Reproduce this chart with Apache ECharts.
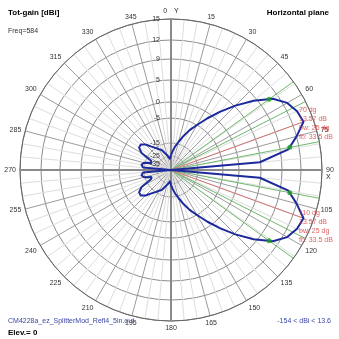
<!DOCTYPE html>
<html><head><meta charset="utf-8">
<script src="https://cdn.jsdelivr.net/npm/echarts@6/dist/echarts.min.js"></script>
<style>html,body{margin:0;padding:0;background:#fff}#c{width:339px;height:339px}</style>
</head><body><div id="c"></div>
<script>
// ---- data ----
const angles = [0,5,10,15,20,25,30,35,40,45,50,55,60,65,70,75,80,85,90,95,100,105,110,115,120,125,130,135,140,145,150,155,160,165,170,175,
  180,185,190,195,200,205,210,215,220,225,230,235,240,245,250,255,260,265,270,275,280,285,290,295,300,305,310,315,320,325,330,335,340,345,350,355];
const gains = [-24.2,-21.2,-17.3,-14.2,-11.4,-8.2,-5.0,-1.6,1.8,5.2,8.4,11.1,12.6,13.3,13.57,12.0,10.3,4.8,-154,4.8,10.3,12.0,13.57,13.3,12.6,11.1,8.4,5.2,1.8,-1.6,-5.0,-8.2,-11.4,-14.2,-17.3,-21.2,
  -24.2,-28.8,-25.5,-23.8,-21.9,-18.8,-17.3,-15.0,-13.6,-11.4,-10.0,-10.2,-12.2,-18.8,-19.9,-14.6,-13.8,-14.6,-150,-14.6,-13.8,-14.6,-19.9,-18.8,-12.2,-10.2,-10.0,-11.4,-13.6,-15.0,-17.3,-18.8,-21.9,-23.8,-25.5,-28.8];
const ringDb = [15,12,9,5,0,-5,-15,-25,-35];
const lobeAngle = [70,110];
const lobeGain = [13.57,13.57];
const lobeBw = [25,25];
const lobeFb = [33.5,33.5];
const halfPowerGain = 10.57;
const halfPowerAngles = [54.2,79.2,100.8,125.8];
const extraGreenAngles = [63,117];

// ---- radial scale (4nec2 style log-like scale, ring positions) ----
const scaleDb = [15,12,9,5,0,-5,-15,-25,-35,-50];
const scaleR = [151,130,111,90,68,52,27,14,6,0].map(v=>v/151);
function toR(db){
  if (db >= scaleDb[0]) return scaleR[0];
  for (let i=0;i<scaleDb.length-1;i++){
    const a=scaleDb[i], b=scaleDb[i+1];
    if (db<=a && db>=b){ const t=(a-db)/(a-b); return scaleR[i]+(scaleR[i+1]-scaleR[i])*t; }
  }
  return 0;
}
const ringR = ringDb.map(toR);

const FF = '"Liberation Sans", Arial, sans-serif';
const chart = echarts.init(document.getElementById('c'), null, {renderer:'canvas'});

const series = [];
// main axes (grid)
series.push({type:'line',coordinateSystem:'polar',silent:true,symbol:'none',animation:false,z:1,
  lineStyle:{color:'#8a8a8a',width:2},data:[[1,0],[0,0],[1,180]]});
series.push({type:'line',coordinateSystem:'polar',silent:true,symbol:'none',animation:false,z:1,
  lineStyle:{color:'#8a8a8a',width:2},data:[[1,90],[0,90],[1,270]]});
// beamwidth (green) lines
halfPowerAngles.concat(extraGreenAngles).forEach(a=>{
  series.push({type:'line',coordinateSystem:'polar',silent:true,symbol:'none',animation:false,z:2,
    lineStyle:{color:'#6cb86c',width:1},data:[[0,a],[1,a]]});
});
// max-gain (red) lines
lobeAngle.forEach((a,i)=>{
  series.push({type:'line',coordinateSystem:'polar',silent:true,symbol:'none',animation:false,z:2,
    lineStyle:{color:'#d07070',width:1},data:[[0,a],[toR(lobeGain[i]),a]]});
});
// pattern
const trace = angles.map((a,i)=>[toR(gains[i]),a]);
trace.push([toR(gains[0]),360]);
series.push({type:'line',coordinateSystem:'polar',silent:true,symbol:'none',animation:false,z:5,
  lineStyle:{color:'#1c2a9c',width:2},data:trace});
// half-power dots
series.push({type:'scatter',coordinateSystem:'polar',silent:true,animation:false,z:6,symbolSize:5,
  itemStyle:{color:'#22a022'},data:halfPowerAngles.map(a=>[toR(halfPowerGain),a])});
// lobe readouts
const labelOffsets = [[-4,-16],[-4,-9]];
series.push({type:'scatter',coordinateSystem:'polar',silent:true,animation:false,z:7,symbolSize:1,
  itemStyle:{color:'rgba(0,0,0,0)'},
  data:lobeAngle.map((a,i)=>({value:[toR(lobeGain[i]),a],
    label:{show:true,position:labelOffsets[i],align:'left',verticalAlign:'top',
      formatter:`${a} dg\n${lobeGain[i].toFixed(2)} dB\nbw: ${lobeBw[i]} dg\nfb: ${lobeFb[i]} dB`,
      fontSize:7,lineHeight:9,color:'#d83a3a',fontFamily:FF}}))});

chart.setOption({
  animation:false,
  backgroundColor:'#fff',
  title:[
    {text:'Tot-gain [dBi]',left:3,top:3,textStyle:{fontSize:8,fontWeight:'bold',color:'#000',fontFamily:FF,lineHeight:9}},
    {text:'Freq=584',left:3,top:22,textStyle:{fontSize:7,fontWeight:'normal',color:'#333',fontFamily:FF,lineHeight:8}},
    {text:'Horizontal plane',right:5,top:3,textStyle:{fontSize:8,fontWeight:'bold',color:'#000',fontFamily:FF,lineHeight:9}},
    {text:'CM4228a_ez_SplitterMod_Refl4_5in.out',left:3,top:312,textStyle:{fontSize:7,fontWeight:'normal',color:'#3a46a6',fontFamily:FF,lineHeight:8}},
    {text:'Elev.= 0',left:3,top:323,textStyle:{fontSize:8,fontWeight:'bold',color:'#000',fontFamily:FF,lineHeight:9}},
    {text:'-154 < dBi < 13.6',right:3,top:312,textStyle:{fontSize:7,fontWeight:'normal',color:'#3a46a6',fontFamily:FF,lineHeight:8}}
  ],
  polar:{center:[171,170],radius:151},
  angleAxis:{type:'value',min:0,max:360,interval:15,startAngle:90,clockwise:true,
    axisLine:{show:true,lineStyle:{color:'#666',width:1}},
    axisTick:{show:false},
    axisLabel:{margin:4,fontSize:7,color:'#333',fontFamily:FF,
      formatter:v=>{ if(v===360) return ''; if(v===0) return '{a|0}{b|Y}'; if(v===90) return '{n|90}\n{x|X}'; return String(v);},
      rich:{a:{fontSize:7,color:'#333',fontFamily:FF,padding:[0,7,0,0]},b:{fontSize:7,color:'#222',fontFamily:FF},
            n:{fontSize:7,color:'#333',fontFamily:FF,padding:[8,0,0,0]},x:{fontSize:7,color:'#222',fontFamily:FF}}},
    splitLine:{show:true,lineStyle:{color:'#9c9c9c',width:1}},
    minorTick:{show:false,splitNumber:3},
    minorSplitLine:{show:true,lineStyle:{color:'#dddddd',width:1}}
  },
  radiusAxis:{type:'value',min:0,max:1,
    axisLine:{show:false},
    axisTick:{show:false,customValues:ringR},
    axisLabel:{show:true,customValues:ringR,margin:11,fontSize:7,color:'#333',fontFamily:FF,
      formatter:v=>{ const i=ringR.findIndex(r=>Math.abs(r-v)<1e-6); return i>=0?String(ringDb[i]):''; }},
    splitLine:{show:true,lineStyle:{color:'#8c8c8c',width:1}}
  },
  series:series
});
</script></body></html>
